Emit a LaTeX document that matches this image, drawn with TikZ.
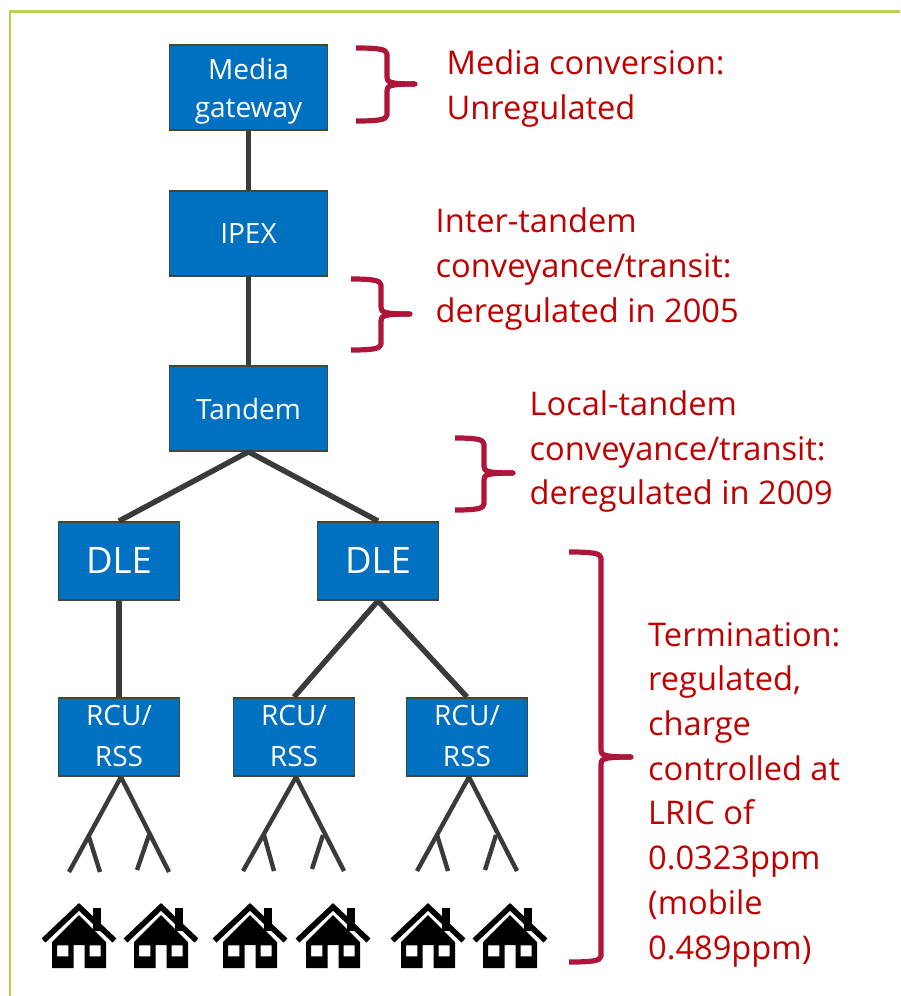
\documentclass[tikz,border=0pt]{standalone}
\usepackage{fontspec}
\setmainfont{Open Sans}
\definecolor{bluebox}{HTML}{0070C0}
\definecolor{boxedge}{HTML}{3F4A36}
\definecolor{linkgray}{HTML}{3A3A3A}
\definecolor{bracered}{HTML}{AE1539}
\definecolor{labelred}{HTML}{C00000}
\definecolor{framegreen}{HTML}{BBD14F}
\tikzset{
  netbox/.style={draw=boxedge,line width=1.8pt,fill=bluebox,text=white,align=center,inner sep=0pt,anchor=north west},
  small/.style={font=\fontsize{28}{38.5}\selectfont},
  rcutext/.style={font=\fontsize{28}{41}\selectfont},
  big/.style={font=\fontsize{36.5}{40}\selectfont},
  link/.style={draw=linkgray,line width=5.4pt},
  twig/.style={draw=linkgray,line width=4.4pt},
  bracket/.style={draw=bracered,line width=5.2pt,line cap=butt,line join=round},
  lab/.style={text=labelred,align=left,anchor=north west,inner sep=0pt,font=\fontsize{32.6}{44.7}\selectfont},
}
\newcommand{\drawhouse}[1]{%
  \begin{scope}[shift={(#1,903)}]
    \fill (14,4.7) rectangle (21.7,28);
    \draw[line width=5.6pt,miter limit=10] (-35.5,37.5) -- (0,3.9) -- (35.5,37.5);
    \fill[even odd rule] (0,12) -- (27,39) -- (27,65) -- (5.7,65) -- (5.7,42) -- (-5.3,42) -- (-5.3,65) -- (-27,65) -- (-27,39) -- cycle
      (-22,42.3) rectangle (-10.7,53.3) (10.7,42.3) rectangle (21.7,53.3);
  \end{scope}}
\newcommand{\drawbrace}[6]{% left x, vertical x, tip x, top y, mid y, bottom y
  \draw[bracket] (#1,#4) .. controls (#2-10,#4) and (#2,#4+1) .. (#2,#4+6) -- (#2,#5-7) .. controls (#2,#5-2) and (#2+2,#5) .. (#3,#5);
  \draw[bracket] (#3,#5) .. controls (#2+2,#5) and (#2,#5+2) .. (#2,#5+7) -- (#2,#6-6) .. controls (#2,#6-1) and (#2-10,#6) .. (#1,#6);
  \fill[bracered] (#3,#5) circle (2.6);}
\begin{document}
\begin{tikzpicture}[x=1pt,y=-1pt]
\useasboundingbox (0,0) rectangle (900,996);
\fill[white] (0,0) rectangle (900,996);
\draw[framegreen,line width=2.6pt] (10,996) -- (10,11.5) -- (900,11.5);

\node[netbox,small,minimum width=158pt,minimum height=85pt] (media) at (168.6,44) {\rule{0pt}{29pt}Media\\gateway};
\node[netbox,small,minimum width=158pt,minimum height=85pt] (ipex) at (168.6,190) {IPEX};
\node[netbox,small,minimum width=158pt,minimum height=85pt] (tandem) at (168.6,365) {\rule{0pt}{23pt}Tandem};
\node[netbox,big,minimum width=121pt,minimum height=78pt] (dlea) at (57.6,521) {DLE};
\node[netbox,big,minimum width=121pt,minimum height=78pt] (dleb) at (316.6,521) {DLE};
\node[netbox,rcutext,minimum width=121pt,minimum height=78pt] (rcua) at (57.6,697) {RCU/\\RSS\rule[-2pt]{0pt}{1pt}};
\node[netbox,rcutext,minimum width=121pt,minimum height=78pt] (rcub) at (232.6,697) {RCU/\\RSS\rule[-2pt]{0pt}{1pt}};
\node[netbox,rcutext,minimum width=121pt,minimum height=78pt] (rcuc) at (405.6,697) {RCU/\\RSS\rule[-2pt]{0pt}{1pt}};

\draw[link] (media.south) -- (ipex.north);
\draw[link] (ipex.south) -- (tandem.north);
\draw[link] (tandem.south) -- (dlea.north);
\draw[link] (tandem.south) -- (dleb.north);
\draw[link] (dlea.south) -- (rcua.north);
\draw[link] (dleb.south) -- (rcub.north);
\draw[link] (dleb.south) -- (rcuc.north);

\coordinate (a0) at (121,777); \coordinate (a1) at (69,872); \coordinate (a2) at (89,837); \coordinate (a3) at (100,872);
\coordinate (a4) at (169,872); \coordinate (a5) at (149,835); \coordinate (a6) at (137,870);
\coordinate (b0) at (296,777); \coordinate (b1) at (243,871); \coordinate (b2) at (264,835); \coordinate (b3) at (274,871);
\coordinate (b4) at (344,871); \coordinate (b5) at (323,835); \coordinate (b6) at (312,869);
\coordinate (c0) at (469,777); \coordinate (c1) at (417,871); \coordinate (c2) at (437,835); \coordinate (c3) at (448,871);
\coordinate (c4) at (517,871); \coordinate (c5) at (496,835); \coordinate (c6) at (485,870);
\foreach \t in {a,b,c}{
  \draw[twig] (\t0) -- (\t1);
  \draw[twig] (\t2) -- (\t3);
  \draw[twig] (\t0) -- (\t4);
  \draw[twig] (\t5) -- (\t6);
}

\foreach \h in {79,161,250,333,428,510}{\drawhouse{\h}}

\drawbrace{356}{387}{415}{48}{84}{121}
\drawbrace{351}{381}{410}{279}{314}{350}
\drawbrace{455}{484}{513}{438}{473}{510}
\drawbrace{569}{601}{631}{552}{757}{962}

\node[lab] (l1) at (446.5,49.5) {Media conversion:\\Unregulated};
\node[lab] (l2) at (435.5,208) {Inter-tandem\\conveyance/transit:\\deregulated in 2005};
\node[lab] (l3) at (529.5,390.5) {Local-tandem\\conveyance/transit:\\deregulated in 2009};
\node[lab] (l4) at (648,622) {Termination:\\regulated,\\charge\\controlled at\\LRIC of\\0.0323ppm\\(mobile\\0.489ppm)};
\end{tikzpicture}
\end{document}
